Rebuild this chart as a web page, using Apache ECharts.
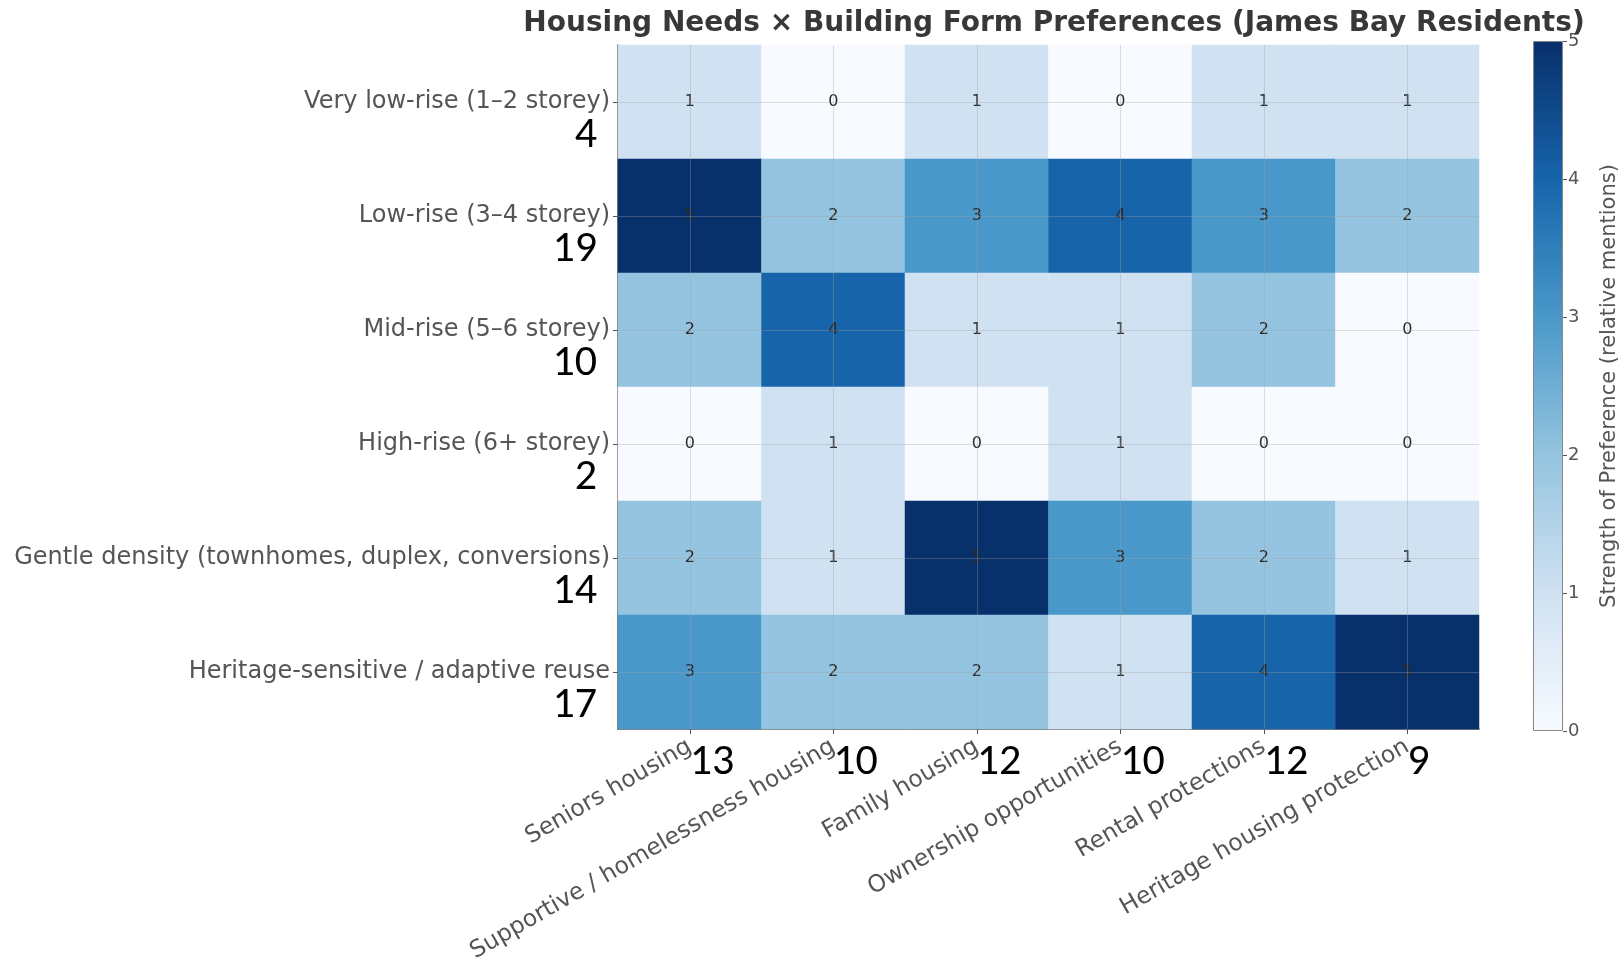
<!DOCTYPE html>
<html>
<head>
<meta charset="utf-8">
<script src="https://cdn.jsdelivr.net/npm/echarts@6/dist/echarts.min.js"></script>
<style>
html,body{margin:0;padding:0;background:#fff;}
#chart{width:1621px;height:966px;}
</style>
</head>
<body>
<div id="chart"></div>
<script>
const titleText = 'Housing Needs × Building Form Preferences (James Bay Residents)';
const needs = ['Seniors housing', 'Supportive / homelessness housing', 'Family housing', 'Ownership opportunities', 'Rental protections', 'Heritage housing protection'];
const forms = ['Very low-rise (1–2 storey)', 'Low-rise (3–4 storey)', 'Mid-rise (5–6 storey)', 'High-rise (6+ storey)', 'Gentle density (townhomes, duplex, conversions)', 'Heritage-sensitive / adaptive reuse'];
const rowVeryLow  = [1, 0, 1, 0, 1, 1];
const rowLow      = [5, 2, 3, 4, 3, 2];
const rowMid      = [2, 4, 1, 1, 2, 0];
const rowHigh     = [0, 1, 0, 1, 0, 0];
const rowGentle   = [2, 1, 5, 3, 2, 1];
const rowHeritage = [3, 2, 2, 1, 4, 5];
const rowTotals = [4, 19, 10, 2, 14, 17];
const colTotals = [13, 10, 12, 10, 12, 9];
const colorbarTicks = [0, 1, 2, 3, 4, 5];
const colorbarName = 'Strength of Preference (relative mentions)';
const blues = ['#f7fbff', '#d0e1f2', '#94c4df', '#4a98c9', '#1764ab', '#08306b'];

const matrix = [rowVeryLow, rowLow, rowMid, rowHigh, rowGentle, rowHeritage];
const heatData = [];
matrix.forEach((row, r) => row.forEach((v, c) => heatData.push([c, r, v])));

const tickFont = 'DejaVu Sans';
const bigFont = "Carlito, 'Liberation Sans Narrow', 'Open Sans', sans-serif";

const chart = echarts.init(document.getElementById('chart'));
chart.setOption({
  animation: false,
  backgroundColor: '#ffffff',
  title: {
    text: titleText,
    left: 1049, top: 5, textAlign: 'center',
    textStyle: {fontFamily: tickFont, fontWeight: 'bold', fontSize: 28, color: '#383838'}
  },
  grid: [
    {left: 618, top: 45, width: 861, height: 684},
    {left: 1533, top: 41, width: 37, height: 690}
  ],
  xAxis: [
    {
      type: 'category', data: needs, gridIndex: 0, position: 'bottom',
      axisLine: {show: true, lineStyle: {color: '#555', width: 1.5}},
      axisTick: {show: true, alignWithLabel: true, length: 5, lineStyle: {color: '#555'}},
      axisLabel: {rotate: 30, margin: 16, fontFamily: tickFont, fontSize: 23.5, color: '#555', interval: 0},
      splitLine: {show: false}
    },
    {
      type: 'category', data: needs, gridIndex: 0, position: 'bottom',
      axisLine: {show: false}, axisTick: {show: false},
      axisLabel: {
        interval: 0, margin: 12, fontFamily: bigFont, fontSize: 44, color: '#000',
        align: 'left',
        formatter: (v, i) => String(colTotals[i])
      }
    },
    {type: 'category', data: ['bar'], gridIndex: 1, show: false}
  ],
  yAxis: [
    {
      type: 'category', data: forms, gridIndex: 0, inverse: true,
      axisLine: {show: true, lineStyle: {color: '#555', width: 1.5}},
      axisTick: {show: true, alignWithLabel: true, length: 5, lineStyle: {color: '#555'}},
      axisLabel: {margin: 8, fontFamily: tickFont, fontSize: 24, color: '#555', interval: 0},
      splitLine: {show: false}
    },
    {
      type: 'category', data: forms, gridIndex: 0, inverse: true, position: 'left',
      axisLine: {show: false}, axisTick: {show: false},
      axisLabel: {
        interval: 0, margin: 21, fontFamily: bigFont, fontSize: 44, color: '#000',
        lineHeight: 68,
        formatter: (v, i) => '\n' + String(rowTotals[i])
      }
    },
    {
      type: 'value', gridIndex: 1, position: 'right', min: colorbarTicks[0], max: colorbarTicks[colorbarTicks.length - 1], interval: 1,
      name: colorbarName, nameLocation: 'middle', nameRotate: 90, nameGap: 36,
      nameTextStyle: {fontFamily: tickFont, fontSize: 21, color: '#555'},
      axisLine: {show: false},
      axisTick: {show: true, inside: false, length: 4, lineStyle: {color: '#555'}},
      axisLabel: {fontFamily: tickFont, fontSize: 18, color: '#555', margin: 5},
      splitLine: {show: false}
    }
  ],
  visualMap: {
    show: false, type: 'continuous', min: 0, max: 5, seriesIndex: 0,
    inRange: {color: blues}
  },
  series: [
    {
      type: 'heatmap', xAxisIndex: 0, yAxisIndex: 0, data: heatData,
      label: {show: true, fontFamily: tickFont, fontSize: 16, color: '#2a2a2a'},
      emphasis: {disabled: true},
      markLine: {
        silent: true, symbol: 'none', label: {show: false},
        lineStyle: {color: 'rgba(160,160,160,0.35)', width: 1, type: 'solid'},
        data: needs.map(n => ({xAxis: n})).concat(forms.map(f => ({yAxis: f})))
      }
    },
    {
      type: 'bar', xAxisIndex: 2, yAxisIndex: 2, data: [colorbarTicks[colorbarTicks.length - 1]],
      barWidth: '100%', silent: true,
      itemStyle: {
        borderColor: '#888', borderWidth: 1,
        color: new echarts.graphic.LinearGradient(0, 1, 0, 0,
          blues.map((c, i) => ({offset: i / (blues.length - 1), color: c})))
      }
    }
  ]
});
</script>
</body>
</html>
